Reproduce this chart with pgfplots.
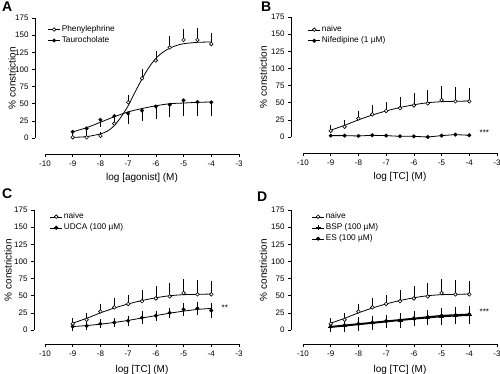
\documentclass[border=0pt]{standalone}
\usepackage{pgfplots}
\pgfplotsset{compat=1.18}
\usepackage{fontspec}
\setmainfont{Liberation Sans}

\pgfplotsset{
 panel/.style={
  scale only axis, width=194pt, height=120pt,
  xmin=-10,xmax=-3,ymin=0,ymax=175,
  axis lines=left, axis line style={-, line width=0.8pt},
  xtick={-10,-9,-8,-7,-6,-5,-4,-3}, ytick={0,25,50,75,100,125,150,175},
  tick align=outside, major tick length=3pt, tick style={line width=0.7pt, black},
  clip=false,
  /pgf/number format/assume math mode=true,
  tick label style={font=\fontsize{8}{9}\selectfont},
  label style={font=\fontsize{9.3}{11}\selectfont},
  every axis y label/.style={at={(axis description cs:-0.17,0.5)}, rotate=90, anchor=center},
  every axis x label/.style={at={(axis description cs:0.5,-0.33)}, anchor=center},
  ylabel={\% constriction},
  legend style={draw=none, fill=none, inner sep=0pt, outer sep=0pt, font=\fontsize{8.3}{9}\selectfont, cells={anchor=west}, nodes={text height=6.2pt, text depth=1.8pt, inner sep=1.5pt}, row sep=0pt, anchor=north west},
  legend image code/.code={\draw[#1] (0pt,0pt) -- (12pt,0pt); \draw plot[#1] coordinates {(6pt,0pt)};},
 },
 fit/.style={smooth, line width=0.8pt, black, forget plot},
 openpts/.style={only marks, mark=*, mark size=1.8pt, mark options={fill=white, draw=black, line width=0.6pt}},
 fillpts/.style={only marks, mark=*, mark size=1.8pt, mark options={fill=black, draw=black}},
 ebar/.style={error bars/.cd, y dir=#1, y explicit, error bar style={line width=0.7pt, black}, error mark options={mark size=3pt, line width=0.7pt, black}},
}

\pgfplotstableread{
x y e
-9 1 2
-8.5 1 1.5
-8 3 2
-7.5 21 3
-7 52 7
-6.5 87 9
-6 113 9
-5.5 132 12
-5 143 12
-4.5 143 13
-4 137 12
}\phen
\pgfplotstableread{
x y e
-9 9 2
-8.5 14 4
-8 26.5 6
-7.5 32 3
-7 36 11
-6.5 40 11
-6 46 14
-5.5 48.5 14
-5 55 18
-4.5 52.5 16
-4 52 16
}\tauro
\pgfplotstableread{
x y e
-9 9 4
-8.5 15 5
-8 27 7
-7.5 33 10
-7 38 9
-6.5 42 12
-6 46 14
-5.5 49 15
-5 54 16
-4.5 52 16
-4 52 15
}\naive
\pgfplotstableread{
x y
-9 2
-8.5 2
-8 1.5
-7.5 2.5
-7 2
-6.5 1
-6 1
-5.5 0
-5 2
-4.5 3.5
-4 2.5
}\nifed
\pgfplotstableread{
x y e
-9 5 1.5
-8.5 6 2
-8 9 2
-7.5 11 2
-7 13.5 3
-6.5 18 5
-6 21 3
-5.5 25 3
-5 30 5
-4.5 31.5 5
-4 28.5 6
}\udca
\pgfplotstableread{
x y e
-9 4 2
-8.5 6 4
-8 8 5
-7.5 10 5
-7 12 5
-6.5 13 6
-6 15.5 6
-5.5 17 6
-5 19 7
-4.5 20 7
-4 21 8
}\bsp
\pgfplotstableread{
x y e
-9 5 2
-8.5 7 4
-8 9 5
-7.5 11 5
-7 13 5
-6.5 14 6
-6 17 6
-5.5 19 6
-5 21 7
-4.5 22 7
-4 23 8
}\es

\newcommand{\naivefit}{\addplot[fit] coordinates {(-9,10) (-8.5,17) (-8,25) (-7.5,32) (-7,38) (-6.5,43) (-6,47) (-5.5,50) (-5,51.5) (-4.5,52) (-4,52.5)};}

\begin{document}
\begin{tikzpicture}
\useasboundingbox (0pt,0pt) rectangle (500pt,373pt);

% ---------- A ----------
\begin{axis}[panel, at={(45pt,235pt)}, anchor=south west,
  axis y line shift=10pt, axis x line shift=16pt,
  xlabel={log [agonist] (M)},
  legend style={at={(axis description cs:0.015,0.95)}}]
\addplot[fit] coordinates {(-9,1) (-8.5,2) (-8,6) (-7.75,10) (-7.5,18) (-7.25,31) (-7,47) (-6.75,67) (-6.5,86) (-6.25,103) (-6,116) (-5.75,125) (-5.5,131) (-5.25,135) (-5,137.5) (-4.5,139.5) (-4,140)};
\addplot[fit] coordinates {(-9,9) (-8.5,15) (-8,23) (-7.5,31) (-7,38) (-6.5,43) (-6,47) (-5.5,50) (-5,51) (-4.5,52) (-4,52.5)};
\addplot[openpts, ebar=plus] table[x=x,y=y,y error=e] {\phen};
\addplot[fillpts, ebar=minus] table[x=x,y=y,y error=e] {\tauro};
\legend{Phenylephrine, Taurocholate}
\end{axis}

% ---------- B ----------
\begin{axis}[panel, at={(303pt,236pt)}, anchor=south west,
  axis y line shift=12pt, axis x line shift=16pt,
  xlabel={log [TC] (M)},
  every axis y label/.style={at={(axis description cs:-0.205,0.5)}, rotate=90, anchor=center},
  legend style={at={(axis description cs:0.026,0.94)}}]
\naivefit
\addplot[black, line width=0.8pt, forget plot] table[x=x,y=y] {\nifed};
\addplot[openpts, ebar=plus] table[x=x,y=y,y error=e] {\naive};
\addplot[fillpts] table[x=x,y=y] {\nifed};
\legend{naive, Nifedipine (1 µM)}
\node[font=\fontsize{8}{9}\selectfont, anchor=west] at (axis cs:-3.75,6) {***};
\end{axis}

% ---------- C ----------
\begin{axis}[panel, at={(45pt,43pt)}, anchor=south west,
  axis y line shift=11pt, axis x line shift=14pt,
  xlabel={log [TC] (M)},
  every axis y label/.style={at={(axis description cs:-0.19,0.5)}, rotate=90, anchor=center},
  legend style={at={(axis description cs:0.026,0.99)}}]
\naivefit
\addplot[fit] coordinates {(-9,5) (-8.5,6.5) (-8,8.5) (-7.5,11) (-7,14) (-6.5,17.5) (-6,21) (-5.5,24.5) (-5,27.5) (-4.5,30) (-4,31.5)};
\addplot[openpts, ebar=plus] table[x=x,y=y,y error=e] {\naive};
\addplot[fillpts, ebar=both] table[x=x,y=y,y error=e] {\udca};
\legend{naive, UDCA (100 µM)}
\node[font=\fontsize{8}{9}\selectfont, anchor=west] at (axis cs:-3.75,32) {**};
\end{axis}

% ---------- D ----------
\begin{axis}[panel, at={(303pt,43pt)}, anchor=south west,
  axis y line shift=12pt, axis x line shift=14pt,
  xlabel={log [TC] (M)},
  every axis y label/.style={at={(axis description cs:-0.205,0.5)}, rotate=90, anchor=center},
  legend style={at={(axis description cs:0.046,0.99)}}]
\naivefit
\addplot[fit, line width=1.3pt] coordinates {(-9,4) (-8,8) (-7,12) (-6,16) (-5,19.5) (-4,21.5)};
\addplot[fit, line width=1.3pt] coordinates {(-9,5) (-8,9) (-7,13) (-6,17) (-5,21) (-4,23)};
\addplot[openpts, ebar=plus] table[x=x,y=y,y error=e] {\naive};
\addplot[only marks, mark=+, mark size=2.5pt, mark options={line width=0.7pt, black}, ebar=both] table[x=x,y=y,y error=e] {\bsp};
\addplot[fillpts, ebar=both] table[x=x,y=y,y error=e] {\es};
\legend{naive, BSP (100 µM), ES (100 µM)}
\node[font=\fontsize{8}{9}\selectfont, anchor=west] at (axis cs:-3.75,26) {***};
\end{axis}

% panel letters
\node[anchor=north west, inner sep=0pt, font=\fontsize{14}{14}\selectfont\bfseries] at (2pt,371pt) {A};
\node[anchor=north west, inner sep=0pt, font=\fontsize{14}{14}\selectfont\bfseries] at (261pt,371pt) {B};
\node[anchor=north west, inner sep=0pt, font=\fontsize{14}{14}\selectfont\bfseries] at (2pt,184pt) {C};
\node[anchor=north west, inner sep=0pt, font=\fontsize{14}{14}\selectfont\bfseries] at (257pt,181pt) {D};
\end{tikzpicture}
\end{document}
